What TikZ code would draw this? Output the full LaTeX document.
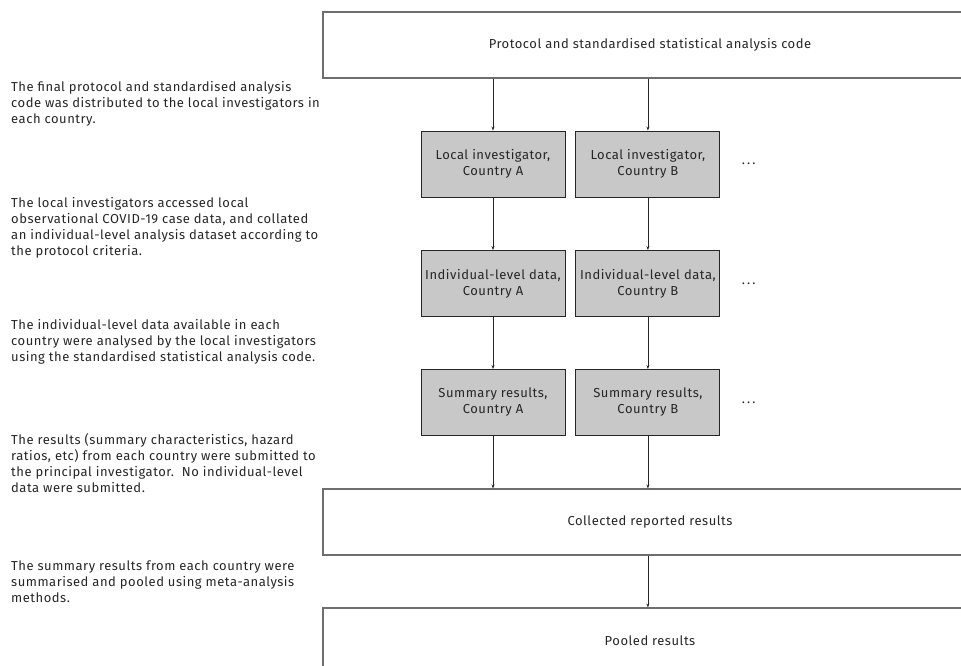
\documentclass[tikz,border=0pt]{standalone}
\usepackage{fontspec}
\setmainfont{Fira Sans}[LetterSpace=4]
\usepackage{xcolor}
\usetikzlibrary{positioning,arrows.meta}
\definecolor{boxgray}{HTML}{C8C8C8}
\definecolor{inkgray}{HTML}{262626}
\definecolor{framegray}{HTML}{6E6E6E}

\begin{document}
\begin{tikzpicture}[x=1pt, y=-1pt, node distance=10pt,
    font=\fontsize{13}{16}\selectfont, text=inkgray,
    country/.style={draw=inkgray, fill=boxgray, line width=0.9pt, minimum width=144pt, minimum height=66pt, align=center, inner sep=0pt},
    wide/.style={draw=framegray, line width=1.1pt, minimum width=654pt, minimum height=66pt},
    note/.style={anchor=north west, align=left, inner sep=0pt},
    flow/.style={-{Stealth[length=4pt,width=3pt]}, draw=inkgray, line width=0.6pt}]
    \clip (0,0) rectangle (961,666);

    % Shared boxes (run off the right edge)
    \node[wide] (code) at (650,45) {Protocol and standardised statistical analysis code};
    \node[wide] (collect) at (650,522) {Collected reported results};
    \node[wide] (pool) at (650,641) {Pooled results};

    % Country A column
    \node[country] (invA) at (493,164) {Local investigator,\\Country A};
    \node[country] (dataA) at (493,283.5) {Individual-level data,\\Country A};
    \node[country] (sumA) at (493,402.5) {Summary results,\\Country A};

    % Country B column
    \node[country, right=of invA] (invB) {Local investigator,\\Country B};
    \node[country, right=of dataA] (dataB) {Individual-level data,\\Country B};
    \node[country, right=of sumA] (sumB) {Summary results,\\Country B};

    % further countries
    \node[right=18pt of invB] (moreinv) {.\,.\,.};
    \node[right=18pt of dataB] (moredata) {.\,.\,.};
    \node[right=18pt of sumB] (moresum) {.\,.\,.};

    % Connections
    \draw[flow] (code.south -| invA) -- (invA);
    \draw[flow] (code.south -| invB) -- (invB);
    \draw[flow] (invA) -- (dataA);
    \draw[flow] (invB) -- (dataB);
    \draw[flow] (dataA) -- (sumA);
    \draw[flow] (dataB) -- (sumB);
    \draw[flow] (sumA) -- (sumA |- collect.north);
    \draw[flow] (sumB) -- (sumB |- collect.north);
    \draw[flow] (collect.south -| sumB) -- (pool.north -| sumB);

    % Step notes on the left
    \node[note] (note1) at (11,81) {The final protocol and standardised analysis\\code was distributed to the local investigators in\\each country.};
    \node[note] (note2) at (11,197) {The local investigators accessed local\\observational COVID-19 case data, and collated\\an individual-level analysis dataset according to\\the protocol criteria.};
    \node[note] (note3) at (11,319) {The individual-level data available in each\\country were analysed by the local investigators\\using the standardised statistical analysis code.};
    \node[note] (note4) at (11,433) {The results (summary characteristics, hazard\\ratios, etc) from each country were submitted to\\the principal investigator.\ \ No individual-level\\data were submitted.};
    \node[note] (note5) at (11,561) {The summary results from each country were\\summarised and pooled using meta-analysis\\methods.};
\end{tikzpicture}
\end{document}
